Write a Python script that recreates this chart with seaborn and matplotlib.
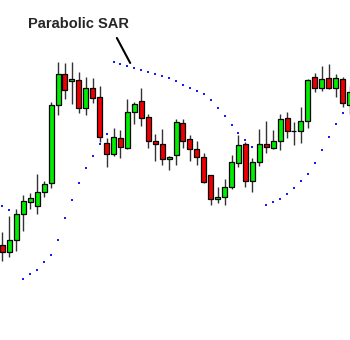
import numpy as np
import pandas as pd
import matplotlib
matplotlib.use('Agg')
import matplotlib.pyplot as plt
import seaborn as sns

sns.set_style('white')
plt.rcParams['font.family'] = ['Liberation Sans', 'DejaVu Sans']

# OHLC (arbitrary price units)
opens = [95, 88, 100, 126, 138, 134, 148, 157, 235, 266, 259, 260, 232, 252, 243, 197, 186,
         202, 192, 228, 239, 223, 199, 196, 181, 185, 217, 201, 191, 183, 165, 141, 143, 153,
         177, 196, 159, 178, 196, 192, 199, 222, 209, 209, 219, 263, 252, 262, 252, 261, 235]
closes = [88, 100, 126, 139, 142, 148, 156, 235, 266, 250, 261, 232, 252, 242, 203, 186, 203,
          193, 228, 236, 222, 199, 196, 181, 183, 218, 199, 191, 183, 158, 141, 143, 153, 178,
          195, 159, 178, 196, 193, 199, 221, 209, 209, 219, 260, 252, 261, 252, 262, 237, 248]
highs = [108, 124, 131, 145, 147, 166, 159, 238, 278, 277, 278, 268, 263, 262, 254, 202, 212,
         210, 241, 238, 252, 226, 206, 211, 184, 221, 221, 205, 199, 187, 165, 153, 161, 185,
         205, 198, 182, 211, 219, 210, 226, 228, 218, 233, 261, 267, 274, 276, 266, 263, 254]
lows = [79, 83, 89, 109, 131, 126, 143, 152, 225, 241, 236, 227, 225, 237, 198, 173, 184,
        182, 191, 216, 214, 192, 179, 175, 170, 175, 192, 179, 175, 157, 135, 137, 135, 151,
        173, 153, 148, 174, 187, 191, 190, 202, 195, 197, 212, 248, 249, 251, 243, 233, 226]
sar = [134, 130, np.nan, 61, 66, 70, 78, 85, 100, 122, 140, 157, 172, 184, 196, 206, 278,
       276, 274, 272, 270, 268, 266, 264, 262, 259, 255, 252, 249, 246, 240, 232, 224, 215,
       207, 200, 193, np.nan, 135, 138, 141, 146, 152, 159, 166, 177, 190, 203, 216, 227, np.nan]

df = pd.DataFrame({'open': opens, 'close': closes, 'high': highs, 'low': lows, 'sar': sar})
df['bar'] = np.arange(len(df))
colors = np.where(df['close'] >= df['open'], '#00ee00', '#ee0000')

fig = plt.figure(figsize=(3.5, 3.4), dpi=100)
ax = fig.add_axes([0, 0, 1, 1])

ax.vlines(df['bar'], df['low'], df['high'], color='#333333', lw=1, zorder=1)
ax.bar(df['bar'], df['close'] - df['open'], bottom=df['open'], width=0.72,
       color=colors, edgecolor='black', linewidth=0.9, zorder=2)
sns.scatterplot(data=df, x='bar', y='sar', color='#1a1aff', marker='s', s=3.5,
                linewidth=0, ax=ax, zorder=3)

ax.annotate('Parabolic SAR', xy=(18.4, 277), xytext=(11, 316), textcoords='data',
            ha='center', va='center', fontsize=10.5, fontweight='bold',
            arrowprops=dict(arrowstyle='-', lw=1.5, color='black',
                            relpos=(0.84, 0), shrinkA=3, shrinkB=0))

ax.set_xlim(-0.36, 50.07)
ax.set_ylim(0, 340)
ax.axis('off')
fig.savefig('out.png', dpi=100)
